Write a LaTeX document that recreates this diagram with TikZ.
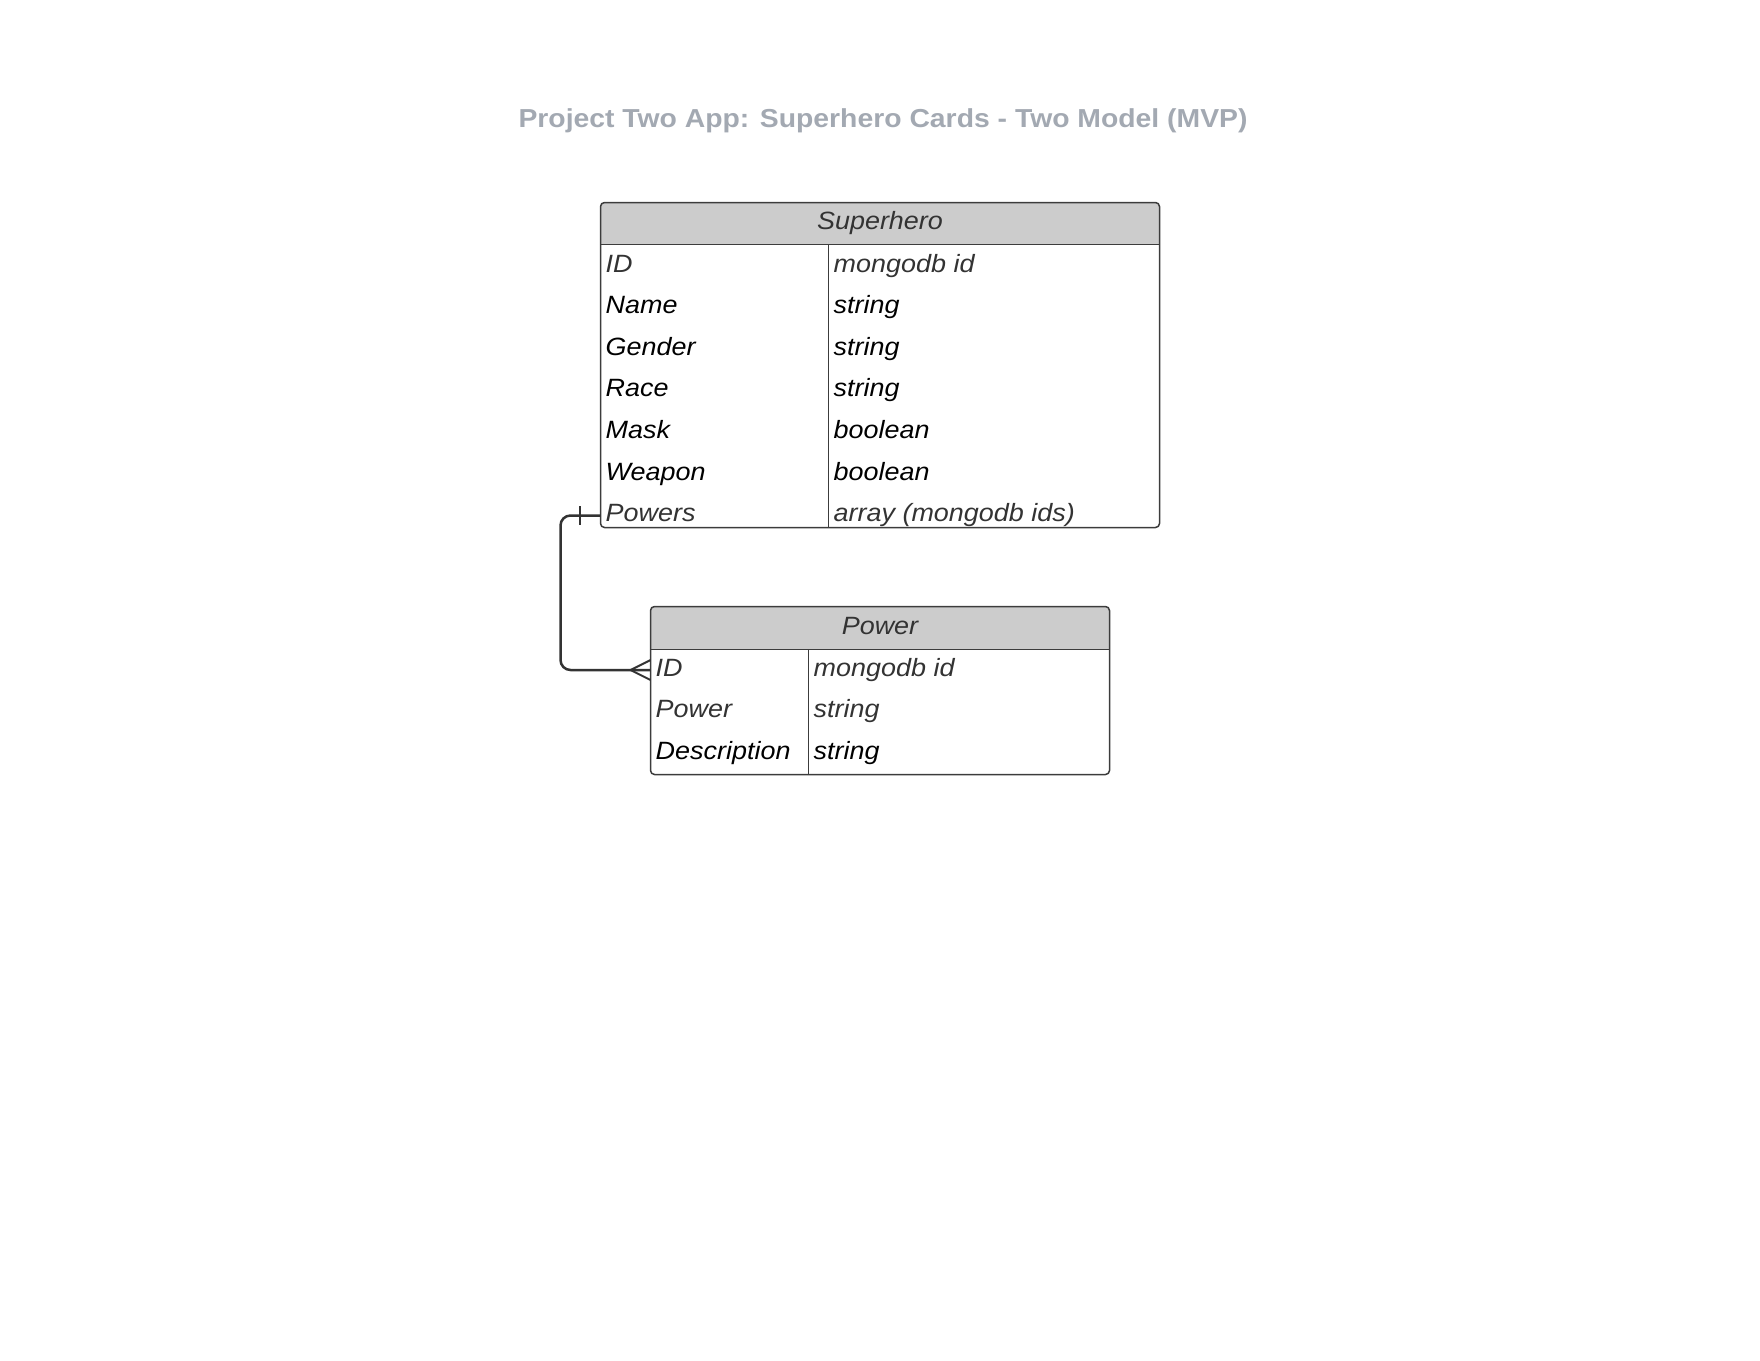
\documentclass[tikz,border=0pt]{standalone}
\usepackage{fontspec}
\setmainfont{Liberation Sans}
\newfontfamily\fieldfont{Liberation Sans}[FakeStretch=1.078]
\newfontfamily\titlefont{Liberation Sans}[FakeStretch=1.09]
\usepackage{xcolor}
\definecolor{titlegray}{RGB}{163,169,178}
\definecolor{headgray}{RGB}{204,204,204}
\definecolor{darkgray}{RGB}{51,51,51}
\definecolor{linegray}{RGB}{60,60,60}

\begin{document}
\begin{tikzpicture}[x=1pt, y=-1pt,
    field/.style={anchor=west, inner xsep=5pt, inner ysep=0pt, text height=17pt, text depth=5pt,
        font=\fieldfont\itshape\fontsize{25}{29}\selectfont},
    dimfield/.style={field, text=darkgray},
    header/.style={anchor=base, text=darkgray, font=\fieldfont\itshape\fontsize{25}{29}\selectfont},
    box/.style={draw=linegray, line width=1.5pt},
    link/.style={draw=darkgray, line width=2.5pt}]
    \useasboundingbox (0,0) rectangle (1760,1360);

    % Title
    \node[anchor=base, text=titlegray, font=\titlefont\bfseries\fontsize{26}{30}\selectfont] (title) at (883,127.5)
        {Project Two App: Superhero Cards - Two Model (MVP)};

    % Entity 1: Superhero
    \begin{scope}
        \clip[rounded corners=4pt] (600.5,202.5) rectangle (1159.5,527.5);
        \fill[headgray] (600.5,202.5) rectangle (1159.5,244.5);
    \end{scope}
    \draw[box, rounded corners=4pt] (600.5,202.5) rectangle (1159.5,527.5);
    \draw[box] (600.5,244.5) -- (1159.5,244.5);
    \draw[box] (828.5,244.5) -- (828.5,527.5);
    \node[header] (hero) at (880,229.5) {Superhero};
    \node[dimfield] (heroID) at (600.5,266) {ID};
    \node[dimfield] (heroIDtype) at (828.5,266) {mongodb id};
    \node[field] (heroName) at (600.5,307.6) {Name};
    \node[field] (heroNametype) at (828.5,307.6) {string};
    \node[field] (heroGender) at (600.5,349.2) {Gender};
    \node[field] (heroGendertype) at (828.5,349.2) {string};
    \node[field] (heroRace) at (600.5,390.8) {Race};
    \node[field] (heroRacetype) at (828.5,390.8) {string};
    \node[field] (heroMask) at (600.5,432.4) {Mask};
    \node[field] (heroMasktype) at (828.5,432.4) {boolean};
    \node[field] (heroWeapon) at (600.5,474) {Weapon};
    \node[field] (heroWeapontype) at (828.5,474) {boolean};
    \node[dimfield] (heroPowers) at (600.5,515.5) {Powers};
    \node[dimfield] (heroPowerstype) at (828.5,515.5) {array (mongodb ids)};

    % Entity 2: Power
    \begin{scope}
        \clip[rounded corners=4pt] (650.5,606.5) rectangle (1109.5,774.5);
        \fill[headgray] (650.5,606.5) rectangle (1109.5,649.5);
    \end{scope}
    \draw[box, rounded corners=4pt] (650.5,606.5) rectangle (1109.5,774.5);
    \draw[box] (650.5,649.5) -- (1109.5,649.5);
    \draw[box] (808.5,649.5) -- (808.5,774.5);
    \node[header] (power) at (880,634.5) {Power};
    \node[dimfield] (powerID) at (650.5,670) {ID};
    \node[dimfield] (powerIDtype) at (808.5,670) {mongodb id};
    \node[dimfield] (powerName) at (650.5,711.5) {Power};
    \node[dimfield] (powerNametype) at (808.5,711.5) {string};
    \node[field] (powerDesc) at (650.5,753.5) {Description};
    \node[field] (powerDesctype) at (808.5,753.5) {string};

    % Relation: one Superhero to many Powers
    \draw[link, rounded corners=10pt] (heroPowers.west) -- ++(-40,0) |- (powerID.west);
    \draw[link, line width=2pt] ([xshift=-21pt]heroPowers.west) ++(0,-9.5) -- ++(0,19);
    \draw[link, line width=2pt] (powerID.west) ++(0,-10) -- ++(-20,10) -- ++(20,10);
\end{tikzpicture}
\end{document}
